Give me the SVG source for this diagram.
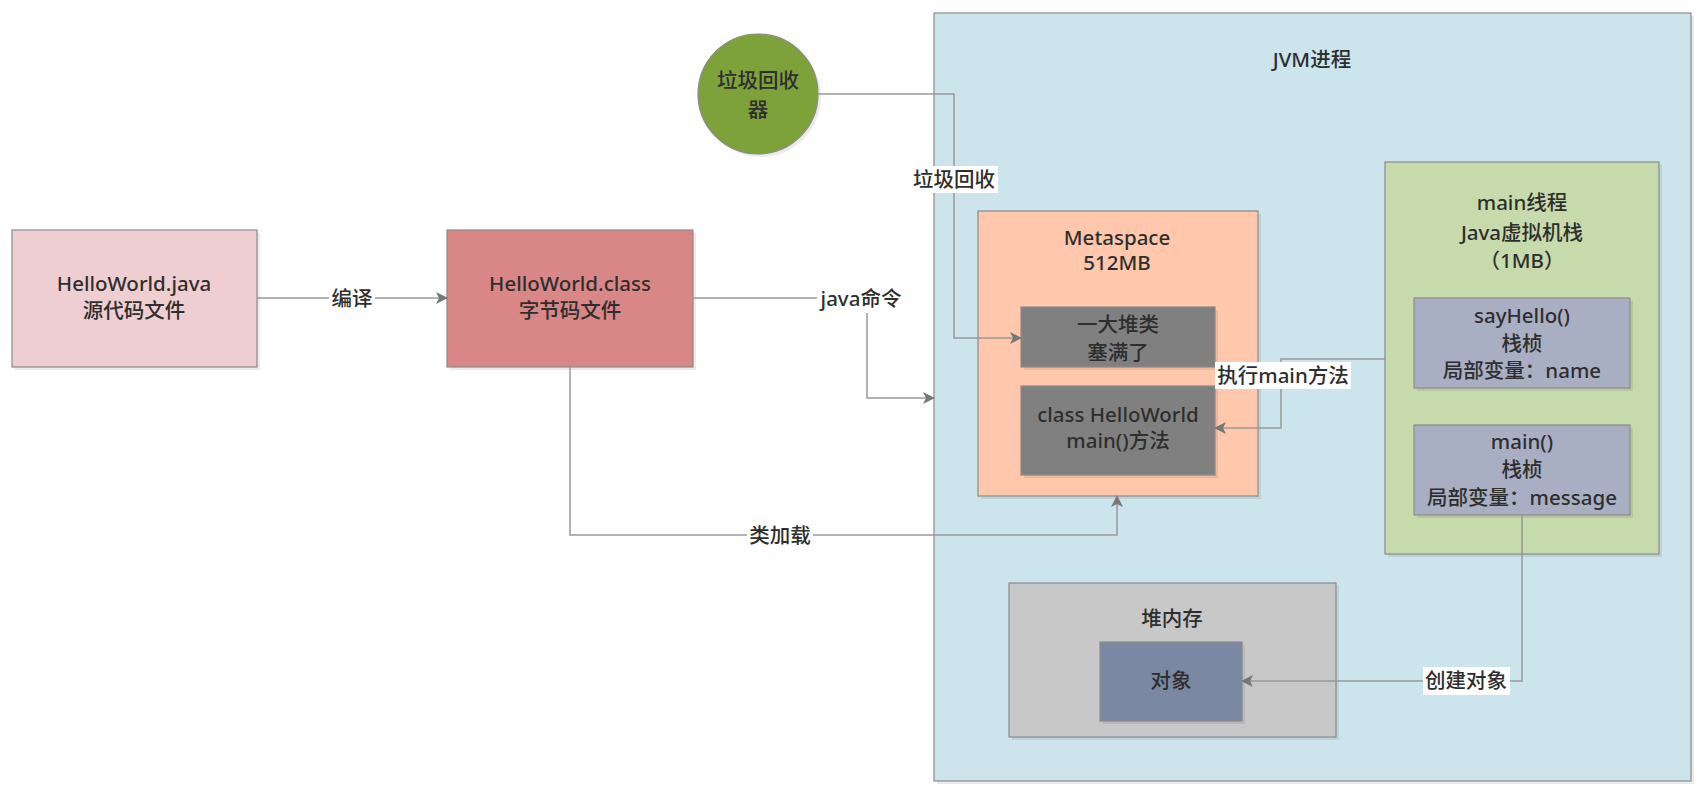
<svg xmlns="http://www.w3.org/2000/svg" width="1699" height="795" viewBox="0 0 1699 795">
<defs>
<style>
.t{font-family:"Noto Sans","Noto Sans CJK SC",sans-serif;font-size:20.5px;font-weight:500;fill:#2e2e2e;text-anchor:middle}
.box{stroke:#8a8a8a;stroke-width:1.2}
.sh{fill:#000;opacity:0.08}
.c{fill:none;stroke:#999;stroke-width:1.5}
.lb{fill:#fff}
</style>
<marker id="ah" viewBox="0 0 12 12" refX="11" refY="6" markerWidth="12" markerHeight="12" markerUnits="userSpaceOnUse" orient="auto">
<path d="M0,0 L12,6 L0,12 L3,6 z" fill="#777"/>
</marker>
</defs>
<rect width="1699" height="795" fill="#fff"/>

<g id="jvm">
<rect class="sh" x="937" y="16" width="757" height="768"/>
<rect class="box" x="934" y="13" width="757" height="768" fill="#CCE4EC"/>
<text class="t" x="1312" y="67">JVM进程</text>
</g>

<g id="source">
<rect class="sh" x="15" y="233" width="245" height="137"/>
<rect class="box" x="12" y="230" width="245" height="137" fill="#EECED0"/>
<text class="t" x="134" y="291">HelloWorld.java</text>
<text class="t" x="134" y="318">源代码文件</text>
</g>

<g id="bytecode">
<rect class="sh" x="450" y="233" width="246" height="137"/>
<rect class="box" x="447" y="230" width="246" height="137" fill="#D98687"/>
<text class="t" x="570" y="291">HelloWorld.class</text>
<text class="t" x="570" y="318">字节码文件</text>
</g>

<g id="gc">
<circle cx="761" cy="97" r="60" fill="#000" opacity="0.08"/>
<circle class="box" cx="758" cy="94" r="60" fill="#7EA23A"/>
<text class="t" x="758" y="88">垃圾回收</text>
<text class="t" x="758" y="117">器</text>
</g>

<g id="metaspace">
<rect class="sh" x="981" y="214" width="280" height="285"/>
<rect class="box" x="978" y="211" width="280" height="285" fill="#FFC7AB"/>
<text class="t" x="1117" y="245">Metaspace</text>
<text class="t" x="1117" y="270">512MB</text>
</g>

<g id="classes">
<rect class="sh" x="1024" y="310" width="194" height="60"/>
<rect class="box" x="1021" y="307" width="194" height="60" fill="#808080"/>
<text class="t" x="1118" y="332">一大堆类</text>
<text class="t" x="1118" y="360">塞满了</text>
</g>

<g id="helloClass">
<rect class="sh" x="1024" y="389" width="194" height="89"/>
<rect class="box" x="1021" y="386" width="194" height="89" fill="#808080"/>
<text class="t" x="1118" y="422">class HelloWorld</text>
<text class="t" x="1118" y="448">main()方法</text>
</g>

<g id="mainThread">
<rect class="sh" x="1388" y="165" width="274" height="392"/>
<rect class="box" x="1385" y="162" width="274" height="392" fill="#C6DAAB"/>
<text class="t" x="1522" y="210">main线程</text>
<text class="t" x="1522" y="240">Java虚拟机栈</text>
<text class="t" x="1522" y="268">（1MB）</text>
</g>

<g id="sayHelloFrame">
<rect class="sh" x="1417" y="301" width="216" height="90"/>
<rect class="box" x="1414" y="298" width="216" height="90" fill="#A9AFC2"/>
<text class="t" x="1522" y="323">sayHello()</text>
<text class="t" x="1522" y="351">栈桢</text>
<text class="t" x="1522" y="378">局部变量：name</text>
</g>

<g id="mainFrame">
<rect class="sh" x="1417" y="428" width="216" height="90"/>
<rect class="box" x="1414" y="425" width="216" height="90" fill="#A9AFC2"/>
<text class="t" x="1522" y="449">main()</text>
<text class="t" x="1522" y="477">栈桢</text>
<text class="t" x="1522" y="505">局部变量：message</text>
</g>

<g id="heap">
<rect class="sh" x="1012" y="586" width="327" height="154"/>
<rect class="box" x="1009" y="583" width="327" height="154" fill="#C8C8C8"/>
<text class="t" x="1172" y="626">堆内存</text>
</g>

<g id="object">
<rect class="sh" x="1103" y="645" width="142" height="79"/>
<rect class="box" x="1100" y="642" width="142" height="79" fill="#7A88A3"/>
<text class="t" x="1171" y="688">对象</text>
</g>

<g id="connectors">
<path class="c" d="M257,298 H447" marker-end="url(#ah)"/>
<rect class="lb" x="329" y="285" width="46" height="26"/>
<text class="t" x="352" y="306">编译</text>

<path class="c" d="M693,298 H867 V398 H934" marker-end="url(#ah)"/>
<rect class="lb" x="817" y="285" width="88" height="28"/>
<text class="t" x="861" y="306">java命令</text>

<path class="c" d="M570,367 V535 H1117 V496" marker-end="url(#ah)"/>
<rect class="lb" x="747" y="522" width="66" height="27"/>
<text class="t" x="780" y="543">类加载</text>

<path class="c" d="M818,94 H954 V338 H1021" marker-end="url(#ah)"/>
<rect class="lb" x="911" y="166" width="87" height="27"/>
<text class="t" x="954" y="187">垃圾回收</text>

<path class="c" d="M1385,359 H1281 V428 H1215" marker-end="url(#ah)"/>
<rect class="lb" x="1215" y="362" width="136" height="27"/>
<text class="t" x="1283" y="383">执行main方法</text>

<path class="c" d="M1522,515 V681 H1242" marker-end="url(#ah)"/>
<rect class="lb" x="1423" y="667" width="87" height="28"/>
<text class="t" x="1466" y="688">创建对象</text>
</g>
</svg>
